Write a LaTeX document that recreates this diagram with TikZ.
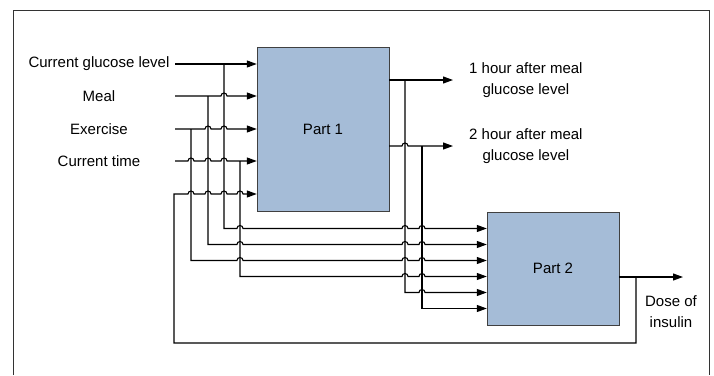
\documentclass[tikz,border=0pt]{standalone}
\usepackage{fontspec}
\setmainfont{Liberation Sans}
\usetikzlibrary{arrows.meta,positioning,calc}
\definecolor{partfill}{RGB}{165,188,215}
\tikzset{
  part/.style={draw=black!75,fill=partfill,minimum width=132pt,minimum height=#1,inner sep=0pt,font=\fontsize{15}{18}\selectfont},
  arr/.style={-{Triangle[length=10pt,width=7pt]},line width=1.1pt},
  lbl/.style={font=\fontsize{15}{21}\selectfont,inner sep=0pt,align=center},
}

\begin{document}
\begin{tikzpicture}[x=1pt,y=1pt]
 \useasboundingbox (0,0) rectangle (714,-375);
 \draw[line width=0.9pt,black!80] (13,-375) |- (709,-10) -- (709,-375);
 % the two parts
 \node[part=164pt] (p1) at (323,-129) {Part 1};
 \node[part=113pt] (p2) at (553,-268.5) {Part 2};
 % inputs
 \node[lbl] (glu) at (99,-64) {Current glucose level};
 \node[lbl] (meal) at (99,-96) {Meal};
 \node[lbl] (ex) at (99,-129) {Exercise};
 \node[lbl] (time) at (99,-161) {Current time};
 \coordinate (iglu) at (175,-64); \coordinate (imeal) at (175,-96);
 \coordinate (iex) at (175,-129); \coordinate (itime) at (175,-161);
 % taps going down to part 2
 \coordinate (tglu) at (224,-64); \coordinate (tmeal) at (208,-96);
 \coordinate (tex) at (191,-129); \coordinate (ttime) at (240,-161);
 \coordinate (fb) at (174,-194); \coordinate (bot) at (174,-343);
 \foreach \i/\dy in {1/40,2/24,3/8,4/-8,5/-24,6/-40}
   \coordinate (q\i) at ([yshift=\dy pt]p2.west);
 % outputs
 \coordinate (o1) at (453,-80); \coordinate (to1) at (405,-80);
 \coordinate (o2) at (453,-146); \coordinate (to2) at (422,-146);
 \coordinate (od) at (683,-277); \coordinate (tdose) at (636,-277);
 \node[lbl,right=16pt of o1] (l1) {1 hour after meal\\glucose level};
 \node[lbl,right=16pt of o2] (l2) {2 hour after meal\\glucose level};
 \node[lbl] (dose) at (671,-311.5) {Dose of\\insulin};

 \draw[arr] (iglu) -- (iglu -| p1.west);
 \draw[arr] (imeal) \foreach \vx in {tglu} {-- ($(\vx |- imeal)+(-3,0)$) arc[start angle=180,end angle=0,radius=3]} -- (imeal -| p1.west);
 \draw[arr] (iex) \foreach \vx in {tmeal,tglu} {-- ($(\vx |- iex)+(-3,0)$) arc[start angle=180,end angle=0,radius=3]} -- (iex -| p1.west);
 \draw[arr] (itime) \foreach \vx in {tex,tmeal,tglu} {-- ($(\vx |- itime)+(-3,0)$) arc[start angle=180,end angle=0,radius=3]} -- (itime -| p1.west);

 \draw[arr] (tglu) -- (tglu |- q1) \foreach \vx in {ttime,to1,to2} {-- ($(\vx |- q1)+(-3,0)$) arc[start angle=180,end angle=0,radius=3]} -- (q1);
 \draw[arr] (tmeal) -- (tmeal |- q2) \foreach \vx in {ttime,to1,to2} {-- ($(\vx |- q2)+(-3,0)$) arc[start angle=180,end angle=0,radius=3]} -- (q2);
 \draw[arr] (tex) -- (tex |- q3) \foreach \vx in {ttime,to1,to2} {-- ($(\vx |- q3)+(-3,0)$) arc[start angle=180,end angle=0,radius=3]} -- (q3);
 \draw[arr] (ttime) -- (ttime |- q4) \foreach \vx in {to1,to2} {-- ($(\vx |- q4)+(-3,0)$) arc[start angle=180,end angle=0,radius=3]} -- (q4);
 \draw[arr] (to1) -- (to1 |- q5) -- ($(to2 |- q5)+(-3,0)$) arc[start angle=180,end angle=0,radius=3] -- (q5);
 \draw[arr] (to2) -- (to2 |- q6) -- (q6);

 \draw[arr] (p1.east |- o1) -- (o1);
 \draw[arr] (p1.east |- o2) -- ($(to1 |- o2)+(-3,0)$) arc[start angle=180,end angle=0,radius=3] -- (o2);
 \draw[arr] (p2.east |- od) -- (od);
 % feedback into part 1
 \draw[arr] (tdose) |- (bot) -- (fb) \foreach \vx in {tex,tmeal,tglu,ttime} {-- ($(\vx |- fb)+(-3,0)$) arc[start angle=180,end angle=0,radius=3]} -- (fb -| p1.west);
\end{tikzpicture}
\end{document}
